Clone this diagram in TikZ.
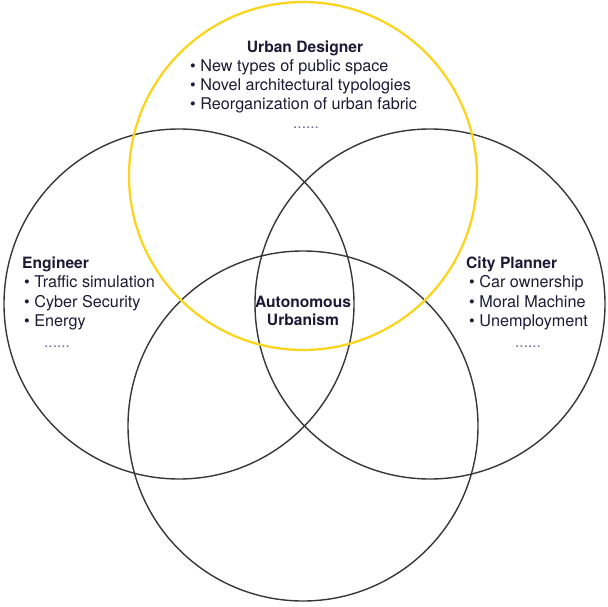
\documentclass[tikz,border=0pt]{standalone}
\usepackage{fontspec}
\setmainfont{TeX Gyre Heros}
\definecolor{ink}{RGB}{28,26,52}
\definecolor{ringgray}{RGB}{55,55,55}
\definecolor{gold}{RGB}{250,213,32}
\definecolor{etc}{RGB}{118,100,150}
\begin{document}
\begin{tikzpicture}[x=1pt,y=-1pt,
  venn/.style={circle, draw=ringgray, line width=1.4pt, minimum size=350pt, inner sep=0pt},
  accent/.style={venn, draw=gold, line width=2.3pt, minimum size=348pt},
  head/.style={font=\fontsize{15.6}{18}\selectfont\bfseries, text=ink, inner sep=0pt},
  entry/.style={font=\fontsize{16.2}{18}\selectfont, text=ink, inner sep=0pt, anchor=base west},
  more/.style={font=\fontsize{15.4}{18}\selectfont, text=etc, inner sep=0pt, anchor=base west}
]
\useasboundingbox (0,0) rectangle (608,607);

% the four overlapping discs
\node[venn] (eng) at (179,304) {};
\node[venn] (plan) at (430,304) {};
\node[venn] (low) at (303,426) {};
\node[accent] (urb) at (303,176) {};

% urban designer
\node[head, anchor=base] (udh) at (305,53) {Urban Designer};
\node[entry] (ud1) at (190,72) {\textbullet\ New types of public space};
\node[entry] (ud2) at (190,91) {\textbullet\ Novel architectural typologies};
\node[entry] (ud3) at (190,110) {\textbullet\ Reorganization of urban fabric};
\node[more] (ud4) at (293,129) {......};

% engineer
\node[head, anchor=base west] (enh) at (22,268) {Engineer};
\node[entry] (en1) at (24,287) {\textbullet\ Traffic simulation};
\node[entry] (en2) at (24,307) {\textbullet\ Cyber Security};
\node[entry] (en3) at (24,326) {\textbullet\ Energy};
\node[more] (en4) at (44,347) {......};

% city planner
\node[head, anchor=base west] (cph) at (466,268) {City Planner};
\node[entry] (cp1) at (469,287) {\textbullet\ Car ownership};
\node[entry] (cp2) at (469,307) {\textbullet\ Moral Machine};
\node[entry] (cp3) at (469,326) {\textbullet\ Unemployment};
\node[more] (cp4) at (515,347) {......};

% shared centre
\node[head, anchor=base] (au1) at (303,307) {Autonomous};
\node[head, anchor=base] (au2) at (303,325) {Urbanism};
\end{tikzpicture}
\end{document}
